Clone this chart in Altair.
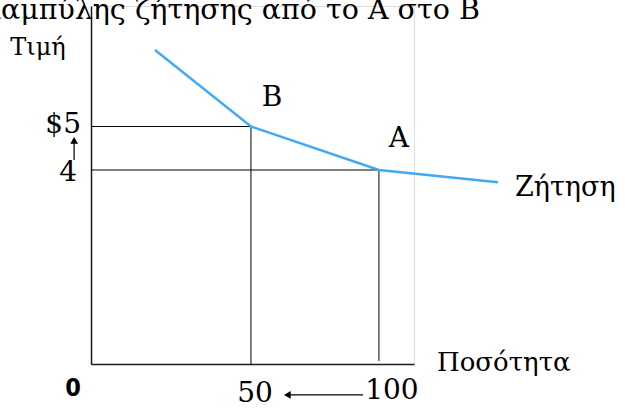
import altair as alt
import pandas as pd

# Demand curve (quantity, price)
demand_q = [12.5, 50, 100, 146.5]
demand_p = [6.76, 5, 4, 3.72]

# Points on the curve
point_names = ["B", "A"]
point_q = [50, 100]
point_p = [5, 4]

# Axis extents (quantity, price)
Q_MIN, Q_MAX = -12.5, 113.7
P_MIN, P_MAX = -0.46, 7.77

SERIF = "DejaVu Serif"
BLUE = "#40a9f3"

xs = alt.Scale(domain=[Q_MIN, Q_MAX], nice=False, zero=False)
ys = alt.Scale(domain=[P_MIN, P_MAX], nice=False, zero=False)
ax = alt.Axis(labels=False, ticks=False, grid=False, title="",
              domainColor="#1a1a1a", domainWidth=1.5)


def X(field):
    return alt.X(field, type="quantitative", scale=xs, axis=ax)


def Y(field):
    return alt.Y(field, type="quantitative", scale=ys, axis=ax)


demand = pd.DataFrame({"q": demand_q, "p": demand_p, "o": range(len(demand_q))})
curve = alt.Chart(demand).mark_line(color=BLUE, strokeWidth=2.5).encode(
    x=X("q"), y=Y("p"), order="o:O"
)

# Dropped guide lines from B and A
vert = pd.DataFrame({"q": point_q, "p0": [P_MIN, P_MIN + 0.07], "p1": point_p})
vlines = alt.Chart(vert).mark_rule(color="black", strokeWidth=1).encode(
    x=X("q"), y=Y("p0"), y2="p1"
)
horiz = pd.DataFrame({"p": point_p, "q0": [Q_MIN, Q_MIN], "q1": point_q})
hlines = alt.Chart(horiz).mark_rule(color="black", strokeWidth=1).encode(
    y=Y("p"), x=X("q0"), x2="q1"
)


def label(text, q, p, size=26, font=SERIF, **kw):
    df = pd.DataFrame({"q": [q], "p": [p], "t": [text]})
    return alt.Chart(df).mark_text(font=font, fontSize=size, color="black", **kw).encode(
        x=X("q"), y=Y("p"), text="t:N"
    )


labels = [
    label("$5", Q_MIN, point_p[0], size=28, align="right", baseline="middle", dx=-10, dy=-1),
    label("4", Q_MIN, point_p[1], size=28, align="right", baseline="middle", dx=-14, dy=3),
    label("50", point_q[0], P_MIN, size=28, align="center", baseline="middle", dx=4, dy=30),
    label("100", point_q[1], P_MIN, size=28, align="center", baseline="middle", dx=13, dy=27),
    label(point_names[0], point_q[0], point_p[0], size=28, align="center", baseline="middle", dx=21, dy=-28),
    label(point_names[1], point_q[1], point_p[1], size=28, align="center", baseline="middle", dx=20, dy=-31),
    label("Ζήτηση", demand_q[-1], demand_p[-1], size=27, align="left", baseline="middle", dx=17, dy=6),
    label("Ποσότητα", Q_MAX, P_MIN, align="left", baseline="middle", dx=23, dy=-1),
    label("Τιμή", Q_MIN, P_MAX, size=24, align="center", baseline="middle", dx=-53, dy=42),
    label("Κίνηση κατά μήκος της καμπύλης ζήτησης από το Α στο Β", Q_MAX, P_MAX, size=28.5,
          align="right", baseline="alphabetic", dx=66, dy=13),
]

origin = alt.Chart(pd.DataFrame({"q": [Q_MIN], "p": [P_MIN], "t": ["0"]})).mark_text(
    font="'DejaVu Sans Condensed', 'Liberation Sans', sans-serif", fontWeight="bold",
    fontSize=25, color="black", align="center", baseline="middle", dx=-18, dy=24
).encode(x=X("q"), y=Y("p"), text="t:N")

# Arrow: price rises from 4 to 5
up_shaft = alt.Chart(pd.DataFrame({"q": [-19.1], "p0": [4.23], "p1": [4.7]})).mark_rule(
    color="black", strokeWidth=1.2
).encode(x=X("q"), y=Y("p0"), y2="p1")
up_head = alt.Chart(pd.DataFrame({"q": [-19.1], "p": [4.68]})).mark_point(
    shape="triangle-up", filled=True, color="black", size=60, opacity=1
).encode(x=X("q"), y=Y("p"))

# Arrow: quantity falls from 100 to 50
left_shaft = alt.Chart(pd.DataFrame({"q0": [93.8], "q1": [64.5], "p": [-1.17]})).mark_rule(
    color="black", strokeWidth=1.2
).encode(x=X("q0"), x2="q1", y=Y("p"))
left_head = alt.Chart(pd.DataFrame({"q": [64.2], "p": [-1.17]})).mark_point(
    shape="triangle-left", filled=True, color="black", size=60, opacity=1
).encode(x=X("q"), y=Y("p"))

chart = alt.layer(
    hlines, vlines, curve, up_shaft, up_head, left_shaft, left_head, origin, *labels
).properties(
    width=323, height=358,
    padding={"left": 91, "top": 6, "right": 211, "bottom": 45},
    autosize=alt.AutoSizeParams(type="none"),
).configure_view(stroke=None).configure(background="white")

chart.save("out.html", embed_options={"renderer": "svg", "actions": False})
